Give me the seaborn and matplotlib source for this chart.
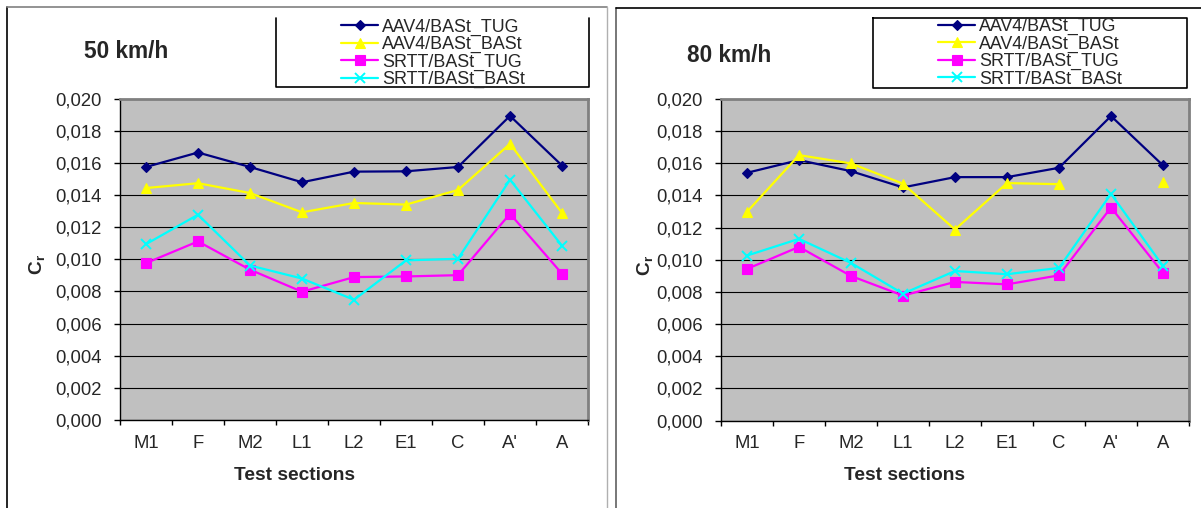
import numpy as np
import pandas as pd
import matplotlib
matplotlib.use("Agg")
import matplotlib.pyplot as plt
from matplotlib.lines import Line2D
from matplotlib.ticker import FuncFormatter, MultipleLocator, FixedLocator
import seaborn as sns

# ---- data -------------------------------------------------------------
sections = ["M1", "F", "M2", "L1", "L2", "E1", "C", "A'", "A"]
series_names = ["AAV4/BASt_TUG", "AAV4/BASt_BASt", "SRTT/BASt_TUG", "SRTT/BASt_BASt"]

# 50 km/h
aav4_tug_50 = [0.01574, 0.01664, 0.01574, 0.01479, 0.01545, 0.01547, 0.01574, 0.01892, 0.01583]
aav4_bast_50 = [0.01443, 0.01473, 0.01412, 0.01292, 0.01350, 0.01340, 0.01431, 0.01718, 0.01288]
srtt_tug_50 = [0.00976, 0.01111, 0.00935, 0.00798, 0.00889, 0.00893, 0.00901, 0.01283, 0.00910]
srtt_bast_50 = [0.01094, 0.01277, 0.00961, 0.00880, 0.00748, 0.00993, 0.01003, 0.01495, 0.01084]

# 80 km/h (no AAV4/BASt_BASt value for A')
aav4_tug_80 = [0.01541, 0.01620, 0.01551, 0.01450, 0.01514, 0.01514, 0.01572, 0.01894, 0.01587]
aav4_bast_80 = [0.01298, 0.01651, 0.01599, 0.01473, 0.01188, 0.01477, 0.01470, np.nan, 0.01481]
srtt_tug_80 = [0.00943, 0.01080, 0.00899, 0.00777, 0.00862, 0.00847, 0.00903, 0.01325, 0.00918]
srtt_bast_80 = [0.01026, 0.01130, 0.00980, 0.00789, 0.00930, 0.00910, 0.00949, 0.01410, 0.00961]

panel_titles = ["50 km/h", "80 km/h"]
x_label = "Test sections"
y_label = r"$\mathbf{C}_\mathbf{r}$"

# ---- style ------------------------------------------------------------
sns.set_style("white")
plt.rcParams["font.family"] = ["Liberation Sans", "DejaVu Sans"]
plt.rcParams["mathtext.fontset"] = "custom"
plt.rcParams["mathtext.rm"] = "Liberation Sans"
plt.rcParams["mathtext.bf"] = "Liberation Sans:bold"

styles = {
    "AAV4/BASt_TUG": dict(color="#000080", marker="D", markersize=5),
    "AAV4/BASt_BASt": dict(color="#FFFF00", marker="^", markersize=7.5),
    "SRTT/BASt_TUG": dict(color="#FF00FF", marker="s", markersize=7),
    "SRTT/BASt_BASt": dict(color="#00FFFF", marker="x", markersize=7, markeredgewidth=1.4),
}

W, H = 1201, 508
fig = plt.figure(figsize=(W / 100, H / 100), dpi=100)


def fx(px):
    return px / W


def fy(py):
    return 1 - py / H


def fig_line(xs, ys, color, lw=1.0):
    fig.add_artist(Line2D([fx(v) for v in xs], [fy(v) for v in ys],
                          color=color, lw=lw, transform=fig.transFigure))


def draw_panel(ax, frame, values, title, title_xy, xlabel_x, ylabel_xy):
    ax.set_facecolor("#C0C0C0")
    x = np.arange(len(sections))
    handles = []
    for name, vals in zip(series_names, values):
        st = dict(styles[name])
        vals = np.asarray(vals, dtype=float)
        df = pd.DataFrame({"x": x, "y": vals})
        # split into contiguous runs so a missing value leaves a gap
        valid = df["y"].notna()
        run_id = df["y"].isna().cumsum()
        first = None
        for _, seg in df[valid].groupby(run_id[valid]):
            sns.lineplot(data=seg, x="x", y="y", ax=ax, color=st["color"],
                         marker=st["marker"], markersize=st["markersize"],
                         markeredgecolor=st["color"], markerfacecolor=st["color"],
                         markeredgewidth=st.get("markeredgewidth", 0.8),
                         linewidth=1.6, errorbar=None, legend=False)
            if first is None:
                first = ax.lines[-1]
        handles.append(first)

    ax.set_xlim(-0.5, len(sections) - 0.5)
    ax.set_ylim(0, 0.020)
    ax.yaxis.set_major_locator(MultipleLocator(0.002))
    ax.yaxis.set_major_formatter(FuncFormatter(lambda v, p: f"{v:.3f}".replace(".", ",")))
    ax.tick_params(axis="y", which="major", direction="out", length=4.3, width=1,
                   color="black", pad=9, labelsize=13.3, left=True)
    ax.yaxis.grid(True, color="black", linewidth=0.8)
    ax.xaxis.grid(False)
    ax.set_axisbelow(True)

    ax.xaxis.set_major_locator(FixedLocator(np.arange(-0.5, len(sections), 1.0)))
    ax.xaxis.set_major_formatter(FuncFormatter(lambda v, p: ""))
    ax.set_xticks(x, sections, minor=True)
    ax.tick_params(axis="x", which="major", direction="out", length=3.6, width=1,
                   color="black", bottom=True)
    ax.tick_params(axis="x", which="minor", length=0, pad=10.5, labelsize=13.3, bottom=True)

    for side in ("left", "bottom"):
        ax.spines[side].set_color("black")
        ax.spines[side].set_linewidth(1.0)
    for side in ("top", "right"):
        ax.spines[side].set_color("#808080")
        ax.spines[side].set_linewidth(2.0)

    ax.set_xlabel(x_label, fontsize=13.8, fontweight="bold", va="center")
    ax.set_ylabel(y_label, fontsize=13.8, va="center")
    bbox = ax.get_position()
    ax.xaxis.set_label_coords((fx(xlabel_x) - bbox.x0) / bbox.width,
                              (fy(476) - bbox.y0) / bbox.height)
    ax.yaxis.set_label_coords((fx(ylabel_xy[0]) - bbox.x0) / bbox.width,
                              (fy(ylabel_xy[1]) - bbox.y0) / bbox.height)

    fig.text(fx(title_xy[0]), fy(title_xy[1]), title, fontsize=16.3,
             fontweight="bold", ha="center", va="center")

    # legend frame and entries
    lx0, lx1, ly0, ly1, full = frame
    if full:
        fig_line([lx0, lx1, lx1, lx0, lx0], [ly0, ly0, ly1, ly1, ly0], "black", 1.2)
    else:
        fig_line([lx0, lx0, lx1, lx1], [ly0, ly1, ly1, ly0], "black", 1.2)
    fig.legend(handles, series_names, loc="upper left",
               bbox_to_anchor=(fx(lx0 + 65), fy(ly0 + 0.5)), bbox_transform=fig.transFigure,
               frameon=False, fontsize=12.9, borderpad=0, borderaxespad=0,
               labelspacing=0.02, handlelength=2.07, handletextpad=0.22)


ax1 = fig.add_axes([fx(120), fy(420), fx(588) - fx(120), fy(98.5) - fy(420)])
ax2 = fig.add_axes([fx(721), fy(420.5), fx(1189) - fx(721), fy(99) - fy(420.5)])

draw_panel(ax1, (276, 589, 18, 87, False),
           [aav4_tug_50, aav4_bast_50, srtt_tug_50, srtt_bast_50],
           panel_titles[0], (126.5, 52), 295, (38, 264))
draw_panel(ax2, (873, 1187, 17.5, 88, True),
           [aav4_tug_80, aav4_bast_80, srtt_tug_80, srtt_bast_80],
           panel_titles[1], (729, 55.5), 904, (646, 265))

# panel outlines
fig_line([6.5, 6.5], [7, 510], "black", 1.2)
fig_line([6.5, 607], [7, 7], "#808080", 1.2)
fig_line([607, 607], [7, 510], "#B0B0B0", 1.0)
fig_line([616, 616], [8, 510], "#606060", 1.2)
fig_line([616, 1201], [8, 8], "black", 1.2)

fig.savefig("out.png", dpi=100)
